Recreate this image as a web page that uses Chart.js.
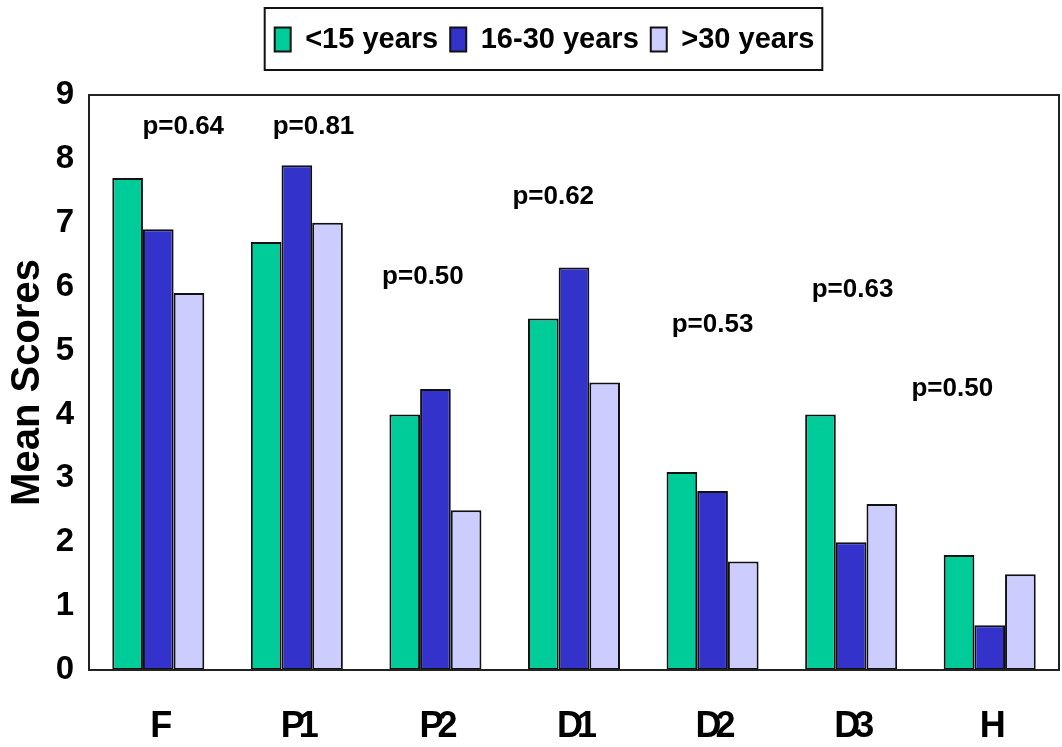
<!DOCTYPE html>
<html>
<head>
<meta charset="utf-8">
<script src="https://cdn.jsdelivr.net/npm/chart.js@4.4.0/dist/chart.umd.min.js"></script>
<style>
  html, body { margin: 0; padding: 0; background: #fff; }
  #wrap { width: 1062px; height: 747px; }
</style>
</head>
<body>
<div id="wrap"><canvas id="scoreChart"></canvas></div>
<script>
/* ── Données ─────────────────────────────────────────────── */
const categories  = ['F', 'P1', 'P2', 'D1', 'D2', 'D3', 'H'];
const under15     = [7.7, 6.7, 4.0, 5.5, 3.1, 4.0, 1.8];
const from16to30  = [6.9, 7.9, 4.4, 6.3, 2.8, 2.0, 0.7];
const over30      = [5.9, 7.0, 2.5, 4.5, 1.7, 2.6, 1.5];
const yTicks      = [0, 1, 2, 3, 4, 5, 6, 7, 8, 9];
const pLabels     = ['p=0.64', 'p=0.81', 'p=0.50', 'p=0.62', 'p=0.53', 'p=0.63', 'p=0.50'];
const pLevels     = [8.5, 8.5, 6.15, 7.4, 5.4, 5.95, 4.4];

const FONT = "'Liberation Sans', Arial, sans-serif";

/* ── Cadre de légende + légende décalée ──────────────────── */
const legendFrame = {
    id: 'legendFrame',
    beforeLayout(chart) {
        const lg = chart.legend;
        if (!lg || lg._framed) return;
        lg._framed = true;
        const fit = lg.fit, draw = lg.draw;
        lg.fit = function () { fit.call(this); this.height = 82; };
        lg.draw = function () {
            const ctx = this.ctx;
            ctx.save();
            ctx.translate(15, 0);
            draw.call(this);
            const hb = this.legendHitBoxes;
            if (hb && hb.length) {
                const last = hb[hb.length - 1];
                const l = hb[0].left - 10;
                const r = last.left + last.width + 8;
                ctx.strokeStyle = '#111';
                ctx.lineWidth = 2;
                ctx.strokeRect(l, hb[0].top - 17, r - l, 62);
            }
            ctx.restore();
        };
    }
};

/* ── Cadre du graphique, p-values ────────────────────────── */
const frameAndNotes = {
    id: 'frameAndNotes',
    beforeDraw(chart) { chart.ctx.letterSpacing = '0px'; },
    afterDatasetsDraw(chart) {
        const { ctx, chartArea: a } = chart;
        ctx.save();
        ctx.strokeStyle = '#222';
        ctx.lineWidth = 2;
        ctx.strokeRect(a.left, a.top, a.right - a.left, a.bottom - a.top);
        ctx.restore();
        // étiquettes de l'axe x un peu condensées
        ctx.letterSpacing = '-6px';
    },
    afterDraw(chart, args, opts) {
        const { ctx, scales: { x, y } } = chart;
        ctx.letterSpacing = '0px';
        ctx.save();
        ctx.font = 'bold 26px ' + FONT;
        ctx.fillStyle = '#000';
        ctx.textAlign = 'center';
        ctx.textBaseline = 'middle';
        const step = x.getPixelForValue(1) - x.getPixelForValue(0);
        pLabels.forEach((t, i) => {
            const px = x.getPixelForValue(i) + opts.shift[i] * step;
            ctx.fillText(t, px, y.getPixelForValue(pLevels[i]));
        });
        ctx.restore();
    }
};

const ctx = document.getElementById('scoreChart').getContext('2d');

const scoreChart = new Chart(ctx, {
    type: 'bar',
    data: {
        labels: categories,
        datasets: [
            { label: '<15 years',   data: under15,    backgroundColor: '#00CC99' },
            { label: '16-30 years', data: from16to30, backgroundColor: '#3333CC' },
            { label: '>30 years',   data: over30,     backgroundColor: '#CCCCFF' }
        ].map(d => Object.assign(d, {
            borderColor: '#111',
            borderWidth: 2,
            borderSkipped: false,
            categoryPercentage: 0.664,
            barPercentage: 1.0
        }))
    },
    options: {
        responsive: true,
        maintainAspectRatio: false,
        animation: false,
        layout: { padding: { top: 13, right: 3, left: 0, bottom: 0 } },
        scales: {
            x: {
                grid: { display: false, drawTicks: false },
                border: { display: true, color: '#222', width: 2 },
                ticks: {
                    z: 1,
                    color: '#000',
                    padding: 35,
                    font: { family: FONT, size: 36, weight: 'bold' }
                },
                afterFit(s) { s.height = 77; }
            },
            y: {
                min: 0,
                max: 9,
                afterBuildTicks(s) { s.ticks = yTicks.map(v => ({ value: v })); },
                grid: { display: false, drawTicks: false },
                border: { display: true, color: '#222', width: 2 },
                ticks: {
                    color: '#000',
                    padding: 15,
                    font: { family: FONT, size: 33, weight: 'bold' }
                },
                title: {
                    display: true,
                    text: 'Mean Scores',
                    color: '#000',
                    padding: { top: 4, bottom: 0 },
                    font: { family: FONT, size: 40, weight: 'bold' }
                },
                afterFit(s) { s.width = 89; }
            }
        },
        plugins: {
            legend: {
                position: 'top',
                labels: {
                    color: '#000',
                    boxWidth: 16,
                    boxHeight: 24,
                    padding: 12,
                    font: { family: FONT, size: 29, weight: 'bold' }
                }
            },
            tooltip: { enabled: false },
            frameAndNotes: { shift: [0.18, 0.12, -0.09, -0.15, 0, 0.01, -0.27] }
        }
    },
    plugins: [legendFrame, frameAndNotes]
});
</script>
</body>
</html>
